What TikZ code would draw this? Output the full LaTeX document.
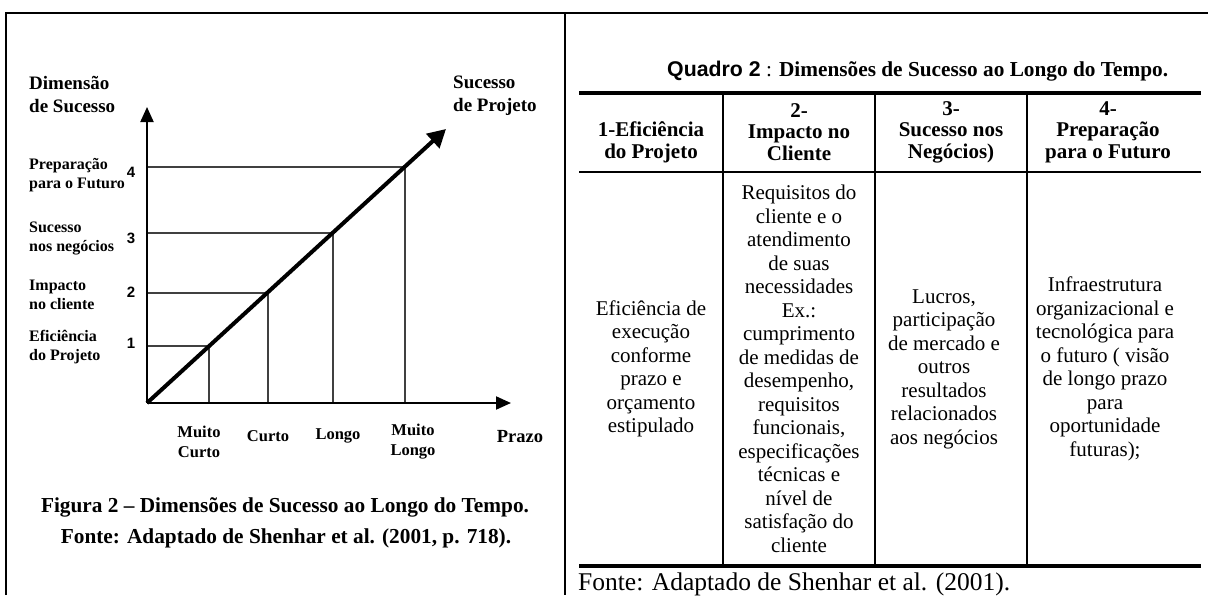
\documentclass[tikz,border=0pt]{standalone}
\usepackage{fontspec}
\setmainfont{Liberation Serif}
\newfontfamily\arialfont{Liberation Sans}
\usetikzlibrary{arrows.meta}
\newcommand\setfs[2]{\fontsize{#1}{#2}\selectfont}
\begin{document}
\begin{tikzpicture}[x=1pt,y=-1pt,
  lbl/.style={inner sep=0pt, font=\bfseries\setfs{16}{19}, align=left, anchor=west},
  biglbl/.style={inner sep=0pt, font=\bfseries\setfs{19}{23}, align=left, anchor=west},
  num/.style={inner sep=0pt, font=\arialfont\bfseries\setfs{15}{15}},
  xl/.style={inner sep=0pt, font=\bfseries\setfs{16.5}{20}, align=center},
  capt/.style={inner sep=0pt, font=\bfseries\setfs{21.3}{25}},
  hdr/.style={inner sep=0pt, font=\bfseries\setfs{21}{21.5}, align=center},
  body/.style={inner sep=0pt, font=\setfs{21}{23.5}, align=center},
  framerule/.style={line width=2.5pt},
  thickrule/.style={line width=4pt},
  cellrule/.style={line width=1.2pt},
  level/.style={line width=1.3pt, black!75},
  axisarrow/.style={line width=2pt, -{Triangle[length=15pt,width=13pt]}},
  diagarrow/.style={line width=4pt, -{Triangle[length=18pt,width=19pt]}}
]
\useasboundingbox (0,0) rectangle (1208,595);
% outer frame
\coordinate (FTL) at (6,13);
\coordinate (FTR) at (1208,13);
\coordinate (FBL) at (6,595);
\coordinate (DT) at (565,13);
\coordinate (DB) at (565,595);
\draw[framerule] (FBL) -- (FTL) -- (FTR);
\draw[framerule] (DT) -- (DB);

% ---------- figure ----------
\coordinate (O) at (147,403);
\coordinate (YT) at (147,107);
\coordinate (XT) at (511,403);
\coordinate (DTIP) at (446,129);
\coordinate (L1) at (209,346); \coordinate (Y1) at (147,346); \coordinate (F1) at (209,403);
\coordinate (L2) at (268,293); \coordinate (Y2) at (147,293); \coordinate (F2) at (268,403);
\coordinate (L3) at (333,233); \coordinate (Y3) at (147,233); \coordinate (F3) at (333,403);
\coordinate (L4) at (405,167); \coordinate (Y4) at (147,167); \coordinate (F4) at (405,403);
\draw[level] (Y1) -- (L1) -- (F1);
\draw[level] (Y2) -- (L2) -- (F2);
\draw[level] (Y3) -- (L3) -- (F3);
\draw[level] (Y4) -- (L4) -- (F4);
\draw[axisarrow] (O) -- (YT);
\draw[axisarrow] (O) -- (XT);
\draw[diagarrow] (O) -- (DTIP);

\node[biglbl] (dim) at (29,94.5) {Dimensão\\de Sucesso};
\node[biglbl] (sp) at (453,95.5) {Sucesso\\de Projeto};
\node[lbl] (t4) at (29,175.5) {Preparação\\para o Futuro};
\node[lbl] (t3) at (29,238.5) {Sucesso\\nos negócios};
\node[lbl] (t2) at (29,294.5) {Impacto\\no cliente};
\node[lbl] (t1) at (29,347) {Eficiência\\do Projeto};
\node[num] (n4) at (131,172) {4};
\node[num] (n3) at (131,238) {3};
\node[num] (n2) at (131,292) {2};
\node[num] (n1) at (131,343) {1};
\node[xl] (mc) at (199,442) {Muito\\Curto};
\node[xl] (cu) at (268,436) {Curto};
\node[xl] (lo) at (338,436) {Longo};
\node[xl] (ml) at (413,442) {Muito\\Longo};
\node[xl, font=\bfseries\setfs{18.5}{20}] (pr) at (520,437) {Prazo};
\node[capt] (cap1) at (285,507) {Figura 2 – Dimensões de Sucesso ao Longo do Tempo.};
\node[capt] (cap2) at (286,538) {Fonte: Adaptado de Shenhar et al. (2001, p. 718).};

% ---------- table ----------
\node[inner sep=0pt, anchor=west, font=\setfs{21.3}{25}] (qt) at (667,71)
  {{\arialfont\bfseries Quadro 2} : \textbf{Dimensões de Sucesso ao Longo do Tempo.}};
\coordinate (TL) at (579,93);  \coordinate (TR) at (1201,93);
\coordinate (HL) at (579,172); \coordinate (HR) at (1201,172);
\coordinate (BL) at (579,566); \coordinate (BR) at (1201,566);
\draw[thickrule] (TL) -- (TR);
\draw[cellrule] (HL) -- (HR);
\draw[thickrule] (BL) -- (BR);
\coordinate (C1T) at (723,93);  \coordinate (C1B) at (723,566);
\coordinate (C2T) at (875,93);  \coordinate (C2B) at (875,566);
\coordinate (C3T) at (1027,93); \coordinate (C3B) at (1027,566);
\draw[cellrule] (C1T) -- (C1B);
\draw[cellrule] (C2T) -- (C2B);
\draw[cellrule] (C3T) -- (C3B);

\node[hdr] (h1) at (651,142.5) {1-Eficiência\\do Projeto};
\node[hdr] (h2) at (799,132) {2-\\Impacto no\\Cliente};
\node[hdr] (h3) at (951,132) {3-\\Sucesso nos\\Negócios)};
\node[hdr] (h4) at (1108,132) {4-\\Preparação\\para o Futuro};

\node[body] (b1) at (651,369) {Eficiência de\\execução\\conforme\\prazo e\\orçamento\\estipulado};
\node[body] (b2) at (799,369) {Requisitos do\\cliente e o\\atendimento\\de suas\\necessidades\\Ex.:\\cumprimento\\de medidas de\\desempenho,\\requisitos\\funcionais,\\especificações\\técnicas e\\nível de\\satisfação do\\cliente};
\node[body] (b3) at (944,369) {Lucros,\\participação\\de mercado e\\outros\\resultados\\relacionados\\aos negócios};
\node[body] (b4) at (1105,369) {Infraestrutura\\organizacional e\\tecnológica para\\o futuro ( visão\\de longo prazo\\para\\oportunidade\\futuras);};

\node[inner sep=0pt, anchor=base west, font=\setfs{25.5}{28}] (fonte) at (578,590) {Fonte: Adaptado de Shenhar et al. (2001).};
\end{tikzpicture}
\end{document}
